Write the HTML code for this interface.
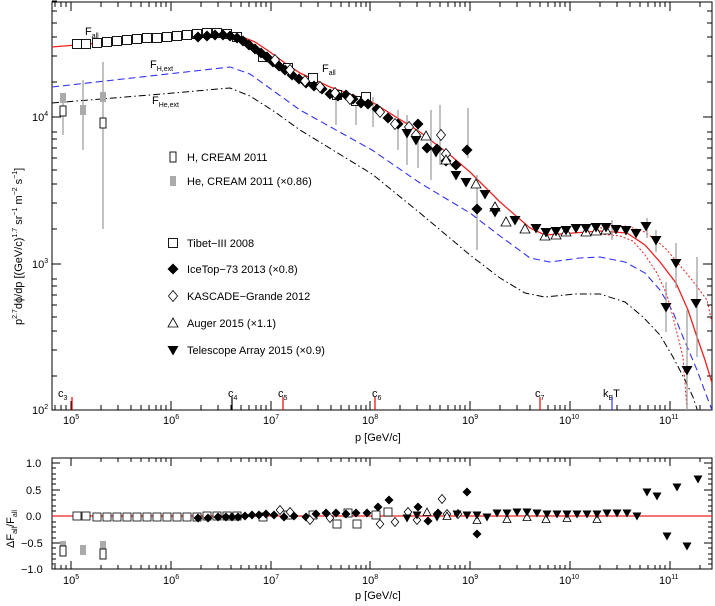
<!DOCTYPE html>
<html><head><meta charset="utf-8"><style>
body{margin:0;background:#fff}
svg{font-family:"Liberation Sans",sans-serif}
</style></head><body>
<svg width="715" height="601" viewBox="0 0 715 601">
<defs>
<rect id="sq" x="-4.5" y="-4.5" width="9" height="9" fill="#fff" stroke="#000" stroke-width="0.9"/>
<rect id="sqs" x="-3" y="-5" width="6" height="10" fill="#fff" stroke="#000" stroke-width="0.9"/>
<rect id="gs" x="-3" y="-5" width="6" height="10" fill="#aaa"/>
<path id="fd" d="M0,-5.5L5.5,0L0,5.5L-5.5,0Z" fill="#000"/>
<path id="od" d="M0,-5.5L4.5,0L0,5.5L-4.5,0Z" fill="#fff" stroke="#000" stroke-width="0.8"/>
<path id="ut" d="M0,-5L5,4L-5,4Z" fill="#fff" stroke="#000" stroke-width="0.8"/>
<path id="dt" d="M-5.5,-4L5.5,-4L0,5.5Z" fill="#000"/>
<rect id="bsq" x="-4" y="-4" width="8" height="8" fill="#fff" stroke="#000" stroke-width="0.8"/>
<path id="bfd" d="M0,-4.5L4.5,0L0,4.5L-4.5,0Z" fill="#000"/>
<path id="bod" d="M0,-4.5L3.8,0L0,4.5L-3.8,0Z" fill="#fff" stroke="#000" stroke-width="0.8"/>
<path id="but" d="M0,-4L4,3.5L-4,3.5Z" fill="#fff" stroke="#000" stroke-width="0.8"/>
<path id="bdt" d="M-4.5,-3.5L4.5,-3.5L0,4.5Z" fill="#000"/>
</defs>
<rect x="52" y="2" width="660" height="408" fill="none" stroke="#000" stroke-width="1"/>
<g stroke="#000" stroke-width="1">
<path d="M52,117h9M52,264h9M703,117h9M703,264h9"/>
<path d="M52,376h5M52,350h5M52,331h5M52,317h5M52,305h5M52,295h5M52,286h5M52,279h5M52,229h5M52,203h5M52,184h5M52,170h5M52,158h5M52,148h5M52,139h5M52,132h5M52,82h5M52,56h5M52,37h5M52,23h5M52,11h5M52,1h5"/>
<path d="M707,376h5M707,350h5M707,331h5M707,317h5M707,305h5M707,295h5M707,286h5M707,279h5M707,229h5M707,203h5M707,184h5M707,170h5M707,158h5M707,148h5M707,139h5M707,132h5M707,82h5M707,56h5M707,37h5M707,23h5M707,11h5"/>
<path d="M71,410v-9M171,410v-9M271,410v-9M370,410v-9M470,410v-9M570,410v-9M670,410v-9M71,2v9M171,2v9M271,2v9M370,2v9M470,2v9M570,2v9M670,2v9"/>
<path d="M101,410v-5M118,410v-5M131,410v-5M141,410v-5M149,410v-5M156,410v-5M161,410v-5M166,410v-5M201,410v-5M218,410v-5M231,410v-5M241,410v-5M249,410v-5M256,410v-5M261,410v-5M266,410v-5M301,410v-5M318,410v-5M331,410v-5M341,410v-5M349,410v-5M356,410v-5M361,410v-5M366,410v-5M400,410v-5M417,410v-5M430,410v-5M440,410v-5M448,410v-5M455,410v-5M460,410v-5M465,410v-5M500,410v-5M517,410v-5M530,410v-5M540,410v-5M548,410v-5M555,410v-5M560,410v-5M565,410v-5M600,410v-5M617,410v-5M630,410v-5M640,410v-5M648,410v-5M655,410v-5M660,410v-5M665,410v-5M700,410v-5M55,410v-5M61,410v-5M66,410v-5"/>
<path d="M101,2v5M118,2v5M131,2v5M141,2v5M149,2v5M156,2v5M161,2v5M166,2v5M201,2v5M218,2v5M231,2v5M241,2v5M249,2v5M256,2v5M261,2v5M266,2v5M301,2v5M318,2v5M331,2v5M341,2v5M349,2v5M356,2v5M361,2v5M366,2v5M400,2v5M417,2v5M430,2v5M440,2v5M448,2v5M455,2v5M460,2v5M465,2v5M500,2v5M517,2v5M530,2v5M540,2v5M548,2v5M555,2v5M560,2v5M565,2v5M600,2v5M617,2v5M630,2v5M640,2v5M648,2v5M655,2v5M660,2v5M665,2v5M700,2v5M55,2v5M61,2v5M66,2v5"/>
</g>
<g font-size="11" fill="#000">
<text x="32" y="121">10<tspan font-size="7" dy="-5">4</tspan></text>
<text x="32" y="268">10<tspan font-size="7" dy="-5">3</tspan></text>
<text x="32" y="414">10<tspan font-size="7" dy="-5">2</tspan></text>
<text x="63" y="424">10<tspan font-size="7" dy="-5">5</tspan></text>
<text x="163" y="424">10<tspan font-size="7" dy="-5">6</tspan></text>
<text x="263" y="424">10<tspan font-size="7" dy="-5">7</tspan></text>
<text x="362" y="424">10<tspan font-size="7" dy="-5">8</tspan></text>
<text x="462" y="424">10<tspan font-size="7" dy="-5">9</tspan></text>
<text x="559" y="424">10<tspan font-size="7" dy="-5">10</tspan></text>
<text x="659" y="424">10<tspan font-size="7" dy="-5">11</tspan></text>
<text x="355" y="441">p [GeV/c]</text>
<text transform="translate(22,325) rotate(-90)" font-size="11">p<tspan font-size="7" dy="-5">2.7</tspan><tspan dy="5">dϕ/dp [(GeV/c)</tspan><tspan font-size="7" dy="-5">1.7</tspan><tspan dy="5"> sr</tspan><tspan font-size="7" dy="-5">−1</tspan><tspan dy="5"> m</tspan><tspan font-size="7" dy="-5">−2</tspan><tspan dy="5"> s</tspan><tspan font-size="7" dy="-5">−1</tspan><tspan dy="5">]</tspan></text>
<text x="58" y="397">c<tspan font-size="7" dy="3">3</tspan></text>
<text x="228" y="397">c<tspan font-size="7" dy="3">4</tspan></text>
<text x="278" y="397">c<tspan font-size="7" dy="3">5</tspan></text>
<text x="372" y="397">c<tspan font-size="7" dy="3">6</tspan></text>
<text x="535" y="397">c<tspan font-size="7" dy="3">7</tspan></text>
<text x="603" y="397">k<tspan font-size="7" dy="3">B</tspan><tspan dy="-3">T</tspan></text>
<text x="85" y="35">F<tspan font-size="7" dy="3">all</tspan></text>
<text x="322" y="72">F<tspan font-size="7" dy="3">all</tspan></text>
<text x="150" y="68">F<tspan font-size="7" dy="3">H,ext</tspan></text>
<text x="152" y="104">F<tspan font-size="7" dy="3">He,ext</tspan></text>
</g>
<g stroke-width="1.2">
<path d="M72,410v-13" stroke="#e00"/><path d="M232,410v-13" stroke="#000"/><path d="M283,410v-13" stroke="#e00"/>
<path d="M375,410v-13" stroke="#e00"/><path d="M540,410v-13" stroke="#e00"/><path d="M612,410v-13" stroke="#33e"/>
</g>
<clipPath id="cp"><rect x="52" y="2" width="660" height="408"/></clipPath>
<g clip-path="url(#cp)" fill="none">
<path d="M52,47 L100,43 L170,37 L220,34 L240,36 L255,42 L270,52 L285,63 L300,73 L330,87 L372,102 L420,132 L450,155 L470,172 L500,202 L530,228 L545,235 L560,234 L600,231 L627,233 L645,245 L660,262 L676,283 L688,310 L697,337 L705,360 L712,383" stroke="#e22" stroke-width="1.3"/>
<path d="M600,228 L627,226 L645,232 L657,241 L667,250 L677,262 L692,280 L707,300 L712,323" stroke="#e22" stroke-dasharray="2,2"/>
<path d="M600,234 L620,236 L633,241 L645,255 L657,273 L667,295 L673,317 L683,357 L687,410" stroke="#e22" stroke-dasharray="2,2"/>
<path d="M52,87 L150,76 L230,67 L250,74 L275,92 L300,110 L372,150 L420,183 L470,213 L500,236 L530,258 L550,262 L580,258 L600,257 L625,262 L645,273 L660,290 L673,312 L683,337 L697,370 L707,397 L712,410" stroke="#33e" stroke-width="1.1" stroke-dasharray="7,4"/>
<path d="M52,103 L150,95 L230,88 L250,96 L275,112 L300,130 L372,174 L420,213 L470,255 L500,278 L525,293 L545,297 L575,294 L600,294 L625,302 L643,317 L660,335 L673,357 L685,380 L693,397 L698,412" stroke="#000" stroke-width="1" stroke-dasharray="7,3,1.5,3"/>
</g>
<g stroke="#999" stroke-width="1.2">
<path d="M63,95v40M83,80v70M103,62v167"/>
<path d="M431,110v70M440,105v60M468,108v50M477,175v75M418,128v40M407,115v50M398,110v40M612,220v20M647,218v20M656,230v22M676,243v45M666,282v50M687,310v100M697,257v100M373,97v30M356,100v25M336,90v35"/>
</g>
<g>
<use href="#gs" x="63" y="98"/><use href="#sqs" x="63" y="111"/>
<use href="#gs" x="83" y="110"/>
<use href="#gs" x="103" y="97"/><use href="#sqs" x="103" y="123"/>
</g>
<g>
<use href="#sq" x="77" y="44"/><use href="#sq" x="86" y="44"/><use href="#sq" x="97" y="43"/><use href="#sq" x="107" y="42"/><use href="#sq" x="117" y="41"/><use href="#sq" x="127" y="40"/><use href="#sq" x="137" y="39"/><use href="#sq" x="147" y="38"/><use href="#sq" x="157" y="38"/><use href="#sq" x="167" y="37"/><use href="#sq" x="177" y="36"/><use href="#sq" x="187" y="35"/><use href="#sq" x="197" y="34"/><use href="#sq" x="207" y="33"/><use href="#sq" x="217" y="33"/><use href="#sq" x="227" y="34"/><use href="#sq" x="237" y="37"/>
<use href="#sq" x="263" y="57"/><use href="#sq" x="288" y="68"/><use href="#sq" x="313" y="78"/><use href="#sq" x="337" y="95"/><use href="#sq" x="356" y="101"/><use href="#sq" x="366" y="97"/>
</g>
<g>
<use href="#fd" x="198" y="37"/><use href="#fd" x="207" y="36"/><use href="#fd" x="215" y="35"/><use href="#fd" x="223" y="35"/><use href="#fd" x="230" y="36"/><use href="#fd" x="237" y="38"/><use href="#fd" x="243" y="41"/><use href="#fd" x="249" y="45"/><use href="#fd" x="255" y="49"/><use href="#fd" x="261" y="53"/><use href="#fd" x="267" y="57"/><use href="#fd" x="273" y="62"/><use href="#fd" x="279" y="66"/><use href="#fd" x="285" y="70"/><use href="#fd" x="292" y="75"/><use href="#fd" x="299" y="79"/><use href="#fd" x="306" y="83"/><use href="#fd" x="314" y="86"/><use href="#fd" x="322" y="89"/><use href="#fd" x="330" y="94"/><use href="#fd" x="338" y="96"/><use href="#fd" x="346" y="95"/><use href="#fd" x="353" y="99"/><use href="#fd" x="361" y="103"/><use href="#fd" x="368" y="104"/><use href="#fd" x="377" y="109"/><use href="#fd" x="388" y="118"/><use href="#fd" x="398" y="124"/><use href="#fd" x="418" y="124"/><use href="#fd" x="427" y="148"/><use href="#fd" x="437" y="149"/><use href="#fd" x="467" y="150"/><use href="#fd" x="477" y="209"/><use href="#fd" x="446" y="161"/><use href="#fd" x="456" y="165"/>
</g>
<g>
<use href="#od" x="275" y="60"/><use href="#od" x="290" y="70"/><use href="#od" x="305" y="81"/><use href="#od" x="320" y="87"/><use href="#od" x="335" y="93"/><use href="#od" x="350" y="99"/><use href="#od" x="380" y="112"/><use href="#od" x="395" y="124"/><use href="#od" x="409" y="127"/><use href="#od" x="416" y="135"/><use href="#od" x="441" y="135"/><use href="#od" x="446" y="154"/>
</g>
<g>
<use href="#ut" x="426" y="136"/><use href="#ut" x="446" y="160"/><use href="#ut" x="476" y="184"/><use href="#ut" x="495" y="207"/><use href="#ut" x="506" y="222"/><use href="#ut" x="525" y="229"/><use href="#ut" x="545" y="236"/><use href="#ut" x="556" y="235"/><use href="#ut" x="566" y="232"/><use href="#ut" x="586" y="232"/><use href="#ut" x="596" y="231"/><use href="#ut" x="606" y="230"/>
</g>
<g>
<use href="#dt" x="407" y="133"/><use href="#dt" x="416" y="140"/><use href="#dt" x="436" y="152"/><use href="#dt" x="456" y="175"/><use href="#dt" x="466" y="182"/><use href="#dt" x="485" y="194"/><use href="#dt" x="495" y="212"/><use href="#dt" x="515" y="220"/><use href="#dt" x="536" y="228"/><use href="#dt" x="546" y="232"/><use href="#dt" x="556" y="231"/><use href="#dt" x="566" y="230"/><use href="#dt" x="576" y="228"/><use href="#dt" x="586" y="228"/><use href="#dt" x="596" y="227"/><use href="#dt" x="606" y="227"/><use href="#dt" x="616" y="229"/><use href="#dt" x="626" y="230"/><use href="#dt" x="636" y="233"/><use href="#dt" x="646" y="226"/><use href="#dt" x="656" y="240"/><use href="#dt" x="676" y="263"/><use href="#dt" x="666" y="307"/><use href="#dt" x="687" y="370"/><use href="#dt" x="696" y="303"/>
</g>
<g font-size="11" fill="#000">
<use href="#sqs" x="173" y="157"/><text x="187" y="161">H, CREAM 2011</text>
<use href="#gs" x="173" y="181"/><text x="187" y="185">He, CREAM 2011 (×0.86)</text>
<use href="#sq" x="173" y="243"/><text x="187" y="247">Tibet−III 2008</text>
<use href="#fd" x="173" y="269"/><text x="187" y="273">IceTop−73 2013 (×0.8)</text>
<use href="#od" x="173" y="296"/><text x="187" y="300">KASCADE−Grande 2012</text>
<use href="#ut" x="173" y="323"/><text x="187" y="327">Auger 2015 (×1.1)</text>
<use href="#dt" x="173" y="350"/><text x="187" y="354">Telescope Array 2015 (×0.9)</text>
</g>

<rect x="52" y="458" width="660" height="111" fill="none" stroke="#000"/>
<g stroke="#000" stroke-width="1">
<path d="M52,463h8M52,490h8M52,516h8M52,543h8M52,569h8M704,463h8M704,490h8M704,516h8M704,543h8"/>
<path d="M52,468h4M52,474h4M52,479h4M52,484h4M52,495h4M52,500h4M52,506h4M52,511h4M52,522h4M52,527h4M52,532h4M52,538h4M52,548h4M52,554h4M52,559h4M52,564h4"/>
<path d="M708,468h4M708,474h4M708,479h4M708,484h4M708,495h4M708,500h4M708,506h4M708,511h4M708,522h4M708,527h4M708,532h4M708,538h4M708,548h4M708,554h4M708,559h4M708,564h4"/>
<path d="M71,569v-8M171,569v-8M271,569v-8M370,569v-8M470,569v-8M570,569v-8M670,569v-8M71,458v8M171,458v8M271,458v8M370,458v8M470,458v8M570,458v8M670,458v8"/>
<path d="M101,569v-4M118,569v-4M131,569v-4M141,569v-4M149,569v-4M156,569v-4M161,569v-4M166,569v-4M201,569v-4M218,569v-4M231,569v-4M241,569v-4M249,569v-4M256,569v-4M261,569v-4M266,569v-4M301,569v-4M318,569v-4M331,569v-4M341,569v-4M349,569v-4M356,569v-4M361,569v-4M366,569v-4M400,569v-4M417,569v-4M430,569v-4M440,569v-4M448,569v-4M455,569v-4M460,569v-4M465,569v-4M500,569v-4M517,569v-4M530,569v-4M540,569v-4M548,569v-4M555,569v-4M560,569v-4M565,569v-4M600,569v-4M617,569v-4M630,569v-4M640,569v-4M648,569v-4M655,569v-4M660,569v-4M665,569v-4M700,569v-4M55,569v-4M61,569v-4M66,569v-4"/>
<path d="M101,458v4M118,458v4M131,458v4M141,458v4M149,458v4M156,458v4M161,458v4M166,458v4M201,458v4M218,458v4M231,458v4M241,458v4M249,458v4M256,458v4M261,458v4M266,458v4M301,458v4M318,458v4M331,458v4M341,458v4M349,458v4M356,458v4M361,458v4M366,458v4M400,458v4M417,458v4M430,458v4M440,458v4M448,458v4M455,458v4M460,458v4M465,458v4M500,458v4M517,458v4M530,458v4M540,458v4M548,458v4M555,458v4M560,458v4M565,458v4M600,458v4M617,458v4M630,458v4M640,458v4M648,458v4M655,458v4M660,458v4M665,458v4M700,458v4"/>
</g>
<path d="M52,516H712" stroke="#e22" stroke-width="1.2"/>
<g font-size="11" fill="#000">
<text x="26" y="467">1.0</text><text x="26" y="494">0.5</text><text x="26" y="520">0.0</text>
<text x="21" y="547">−0.5</text><text x="21" y="573">−1.0</text>
<text x="63" y="584">10<tspan font-size="7" dy="-5">5</tspan></text>
<text x="163" y="584">10<tspan font-size="7" dy="-5">6</tspan></text>
<text x="263" y="584">10<tspan font-size="7" dy="-5">7</tspan></text>
<text x="362" y="584">10<tspan font-size="7" dy="-5">8</tspan></text>
<text x="462" y="584">10<tspan font-size="7" dy="-5">9</tspan></text>
<text x="559" y="584">10<tspan font-size="7" dy="-5">10</tspan></text>
<text x="659" y="584">10<tspan font-size="7" dy="-5">11</tspan></text>
<text x="355" y="599">p [GeV/c]</text>
<text transform="translate(14,548) rotate(-90)">ΔF<tspan font-size="7" dy="3">all</tspan><tspan dy="-3">/F</tspan><tspan font-size="7" dy="3">all</tspan></text>
</g>
<g>
<use href="#gs" x="63" y="546"/><use href="#sqs" x="63" y="551"/>
<use href="#gs" x="83" y="550"/>
<use href="#gs" x="103" y="546"/><use href="#sqs" x="103" y="554"/>
<use href="#bsq" x="77" y="516"/><use href="#bsq" x="86" y="516"/><use href="#bsq" x="97" y="517"/><use href="#bsq" x="107" y="517"/><use href="#bsq" x="117" y="517"/><use href="#bsq" x="127" y="517"/><use href="#bsq" x="137" y="517"/><use href="#bsq" x="147" y="517"/><use href="#bsq" x="157" y="517"/><use href="#bsq" x="167" y="517"/><use href="#bsq" x="177" y="517"/><use href="#bsq" x="187" y="517"/><use href="#bsq" x="197" y="517"/><use href="#bsq" x="207" y="516"/><use href="#bsq" x="217" y="516"/><use href="#bsq" x="227" y="516"/><use href="#bsq" x="237" y="516"/>
<use href="#bsq" x="263" y="517"/><use href="#bsq" x="288" y="515"/><use href="#bsq" x="313" y="515"/><use href="#bsq" x="337" y="524"/><use href="#bsq" x="348" y="513"/><use href="#bsq" x="357" y="524"/><use href="#bsq" x="376" y="515"/><use href="#bsq" x="388" y="512"/>
<use href="#bfd" x="198" y="518"/><use href="#bfd" x="208" y="518"/><use href="#bfd" x="218" y="517"/><use href="#bfd" x="226" y="517"/><use href="#bfd" x="232" y="517"/><use href="#bfd" x="238" y="517"/><use href="#bfd" x="245" y="516"/><use href="#bfd" x="252" y="515"/><use href="#bfd" x="259" y="515"/><use href="#bfd" x="266" y="514"/><use href="#bfd" x="274" y="515"/><use href="#bfd" x="284" y="517"/><use href="#bfd" x="294" y="516"/><use href="#bfd" x="306" y="517"/><use href="#bfd" x="316" y="514"/><use href="#bfd" x="326" y="513"/><use href="#bfd" x="336" y="513"/><use href="#bfd" x="346" y="514"/><use href="#bfd" x="356" y="513"/><use href="#bfd" x="367" y="513"/><use href="#bfd" x="378" y="507"/><use href="#bfd" x="389" y="500"/><use href="#bfd" x="418" y="507"/><use href="#bfd" x="428" y="521"/><use href="#bfd" x="438" y="513"/><use href="#bfd" x="467" y="492"/><use href="#bfd" x="477" y="534"/>
<use href="#bod" x="280" y="510"/><use href="#bod" x="290" y="512"/><use href="#bod" x="310" y="520"/><use href="#bod" x="330" y="518"/><use href="#bod" x="380" y="524"/><use href="#bod" x="395" y="522"/><use href="#bod" x="408" y="512"/><use href="#bod" x="417" y="520"/><use href="#bod" x="442" y="499"/><use href="#bod" x="447" y="514"/><use href="#bod" x="458" y="514"/>
<use href="#but" x="427" y="512"/><use href="#but" x="447" y="516"/><use href="#but" x="477" y="520"/><use href="#but" x="507" y="519"/><use href="#but" x="527" y="517"/><use href="#but" x="546" y="519"/><use href="#but" x="567" y="518"/><use href="#but" x="597" y="519"/>
<use href="#bdt" x="407" y="518"/><use href="#bdt" x="417" y="515"/><use href="#bdt" x="437" y="517"/><use href="#bdt" x="457" y="514"/><use href="#bdt" x="467" y="515"/><use href="#bdt" x="477" y="515"/><use href="#bdt" x="487" y="517"/><use href="#bdt" x="497" y="513"/><use href="#bdt" x="507" y="513"/><use href="#bdt" x="517" y="512"/><use href="#bdt" x="527" y="512"/><use href="#bdt" x="537" y="513"/><use href="#bdt" x="547" y="514"/><use href="#bdt" x="557" y="514"/><use href="#bdt" x="567" y="514"/><use href="#bdt" x="577" y="514"/><use href="#bdt" x="587" y="514"/><use href="#bdt" x="597" y="514"/><use href="#bdt" x="607" y="513"/><use href="#bdt" x="617" y="513"/><use href="#bdt" x="627" y="513"/><use href="#bdt" x="637" y="516"/>
<use href="#bdt" x="647" y="492"/><use href="#bdt" x="657" y="496"/><use href="#bdt" x="667" y="536"/><use href="#bdt" x="677" y="487"/><use href="#bdt" x="687" y="546"/><use href="#bdt" x="698" y="479"/>
</g>
</svg>
</body></html>
